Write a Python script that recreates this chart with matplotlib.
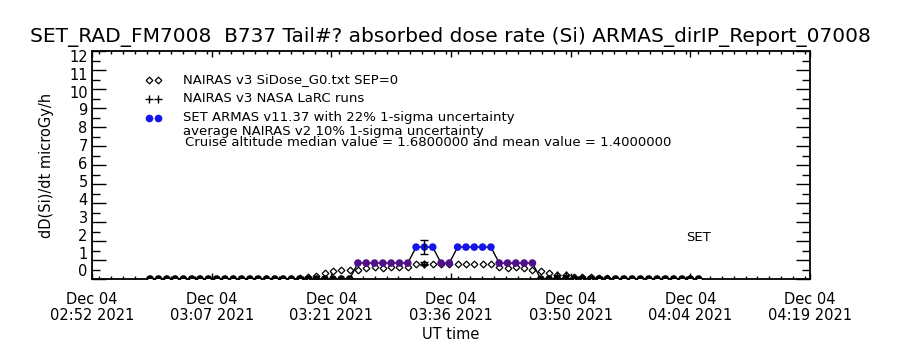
import numpy as np
import matplotlib
matplotlib.use("Agg")
import matplotlib.pyplot as plt
from matplotlib.ticker import FixedLocator, MultipleLocator, NullFormatter
from matplotlib.transforms import blended_transform_factory

plt.rcParams['font.family'] = ['DejaVu Sans']

# ---- data -------------------------------------------------------------
# sample times, minutes after 02:00 UT (1-minute cadence from 02:59:24)
t_min = 59.4 + np.arange(67)

# SET ARMAS absorbed dose rate, microGy/h
set_dose = [0.0] * 25 + [0.84] * 7 + [1.68] * 3 + [0.84] * 2 + [1.68] * 5 + [0.84] * 5 + [0.0] * 20

# NAIRAS v3 SiDose_G0 model dose rate, microGy/h
nairas_dose = ([0.0] * 18 +
               [0.05, 0.10, 0.18, 0.30, 0.40, 0.45, 0.45, 0.50, 0.60, 0.62,
                0.60, 0.62, 0.62, 0.62, 0.80, 0.80, 0.80, 0.80, 0.80, 0.80,
                0.80, 0.80, 0.80, 0.80, 0.62, 0.60, 0.62, 0.60, 0.50, 0.42,
                0.30, 0.22, 0.20, 0.12, 0.10, 0.08, 0.06, 0.05] +
               [0.0] * 11)

# NAIRAS v3 NASA LaRC runs
larc_idx = [33, 49, 50]
larc_dose = [0.80, 0.22, 0.22]

# representative uncertainties at mid-cruise sample
err_idx = 33
set_sigma = 0.22
nairas_sigma = 0.10

cruise_median = 1.68
cruise_mean = 1.40

# x axis ticks (minutes after 02:00 UT) and their labels
x_ticks = [52.4, 66.8, 81.2, 95.6, 110.0, 124.4, 138.8]
x_tick_labels = ["Dec 04\n02:52 2021", "Dec 04\n03:07 2021", "Dec 04\n03:21 2021",
                 "Dec 04\n03:36 2021", "Dec 04\n03:50 2021", "Dec 04\n04:04 2021",
                 "Dec 04\n04:19 2021"]
y_ticks = list(range(13))

# colour of each SET point by dose level
level_colors = {0.0: "black", 0.84: "#50108c", 1.68: "#1414ec"}

# ---- figure -------------------------------------------------------------
fig = plt.figure(figsize=(9, 3.5), dpi=100)
ax = fig.add_axes([92 / 900, 1 - 279 / 350, 718 / 900, 228 / 350])

t = np.asarray(t_min)
sd = np.asarray(set_dose)
nd = np.asarray(nairas_dose)

# model points
ax.plot(t, nd, linestyle="none", marker="D", ms=3.4, mfc="white", mec="black", mew=0.9, zorder=3)
# LaRC runs
ax.plot(t[larc_idx], larc_dose, linestyle="none", marker="+", ms=6, mec="black", mew=1.0, zorder=3)

# measured series: connecting line then coloured points
ax.plot(t, sd, color="black", lw=1.0, zorder=4)
cols = [level_colors[v] for v in set_dose]
ax.scatter(t, sd, s=30, c=cols, edgecolors="none", zorder=5)

# uncertainty bars
ax.errorbar(t[err_idx], sd[err_idx], yerr=set_sigma * sd[err_idx], fmt="none",
            ecolor="black", elinewidth=1.0, capsize=3, capthick=1.0, zorder=6)
ax.errorbar(t[err_idx], nd[err_idx], yerr=nairas_sigma * nd[err_idx], fmt="none",
            ecolor="black", elinewidth=1.0, capsize=3, capthick=1.0, zorder=6)

ax.text(t[-1], 2.2, "SET", ha="center", va="center", fontsize=9.5)

# ---- axes ---------------------------------------------------------------
ax.set_xlim(x_ticks[0], x_ticks[-1])
ax.set_ylim(0, 12)
ax.xaxis.set_major_locator(FixedLocator(x_ticks))
ax.set_xticklabels(x_tick_labels, fontsize=10.5, linespacing=1.1)
ax.xaxis.set_minor_locator(MultipleLocator((x_ticks[1] - x_ticks[0]) / 10))
ax.yaxis.set_major_locator(FixedLocator(y_ticks))
ax.yaxis.set_major_formatter(NullFormatter())
ax.yaxis.set_minor_locator(MultipleLocator(0.5))

# y labels sit on a slightly compressed scale inside the frame
ylab_tr = blended_transform_factory(ax.transAxes, ax.transAxes)
for v in y_ticks:
    ax.text(-0.006, (7 + v * 17.9) / 228, str(v), transform=ylab_tr,
            ha="right", va="center", fontsize=10.5)

ax.tick_params(axis="x", which="major", direction="in", length=4.5, width=1.0,
               top=True, bottom=True, pad=9)
ax.tick_params(axis="x", which="minor", direction="in", length=2.2, width=1.0,
               top=True, bottom=True)
ax.tick_params(axis="y", which="major", direction="in", length=10, width=1.0,
               left=True, right=True)
ax.tick_params(axis="y", which="minor", direction="in", length=5.5, width=1.0,
               left=True, right=True)
for sp in ax.spines.values():
    sp.set_linewidth(1.3)

ax.set_xlabel("UT time", fontsize=10.5, labelpad=3)
ax.set_ylabel("dD(Si)/dt microGy/h", fontsize=10.5, labelpad=24)

fig.text(0.5, 1 - 37 / 350,
         "SET_RAD_FM7008  B737 Tail#? absorbed dose rate (Si) ARMAS_dirIP_Report_07008",
         ha="center", va="center", fontsize=14.5)

# ---- key ----------------------------------------------------------------
def ax_x(px):
    return (px - 92) / 718


def ax_y(py):
    return (279 - py) / 228


sym_x = [ax_x(149), ax_x(158)]
ax.plot(sym_x, [ax_y(80)] * 2, transform=ax.transAxes, linestyle="none", marker="D",
        ms=3.4, mfc="white", mec="black", mew=0.9, clip_on=False)
ax.plot(sym_x, [ax_y(99)] * 2, transform=ax.transAxes, linestyle="none", marker="+",
        ms=6, mec="black", mew=1.0, clip_on=False)
ax.plot(sym_x, [ax_y(118)] * 2, transform=ax.transAxes, linestyle="none", marker="o",
        ms=5.5, mfc=level_colors[1.68], mec="none", clip_on=False)

key_fs = 9.5
tx = ax_x(183)
ax.text(tx, ax_y(80), "NAIRAS v3 SiDose_G0.txt SEP=0", transform=ax.transAxes,
        va="center", fontsize=key_fs)
ax.text(tx, ax_y(99), "NAIRAS v3 NASA LaRC runs", transform=ax.transAxes,
        va="center", fontsize=key_fs)
ax.text(tx, ax_y(118), "SET ARMAS v11.37 with 22% 1-sigma uncertainty",
        transform=ax.transAxes, va="center", fontsize=key_fs)
ax.text(tx, ax_y(131), "average NAIRAS v2 10% 1-sigma uncertainty",
        transform=ax.transAxes, va="center", fontsize=key_fs)
ax.text(ax_x(185), ax_y(142),
        "Cruise altitude median value = %.7f and mean value = %.7f" % (cruise_median, cruise_mean),
        transform=ax.transAxes, va="center", fontsize=key_fs)

fig.savefig("out.png", dpi=100)
